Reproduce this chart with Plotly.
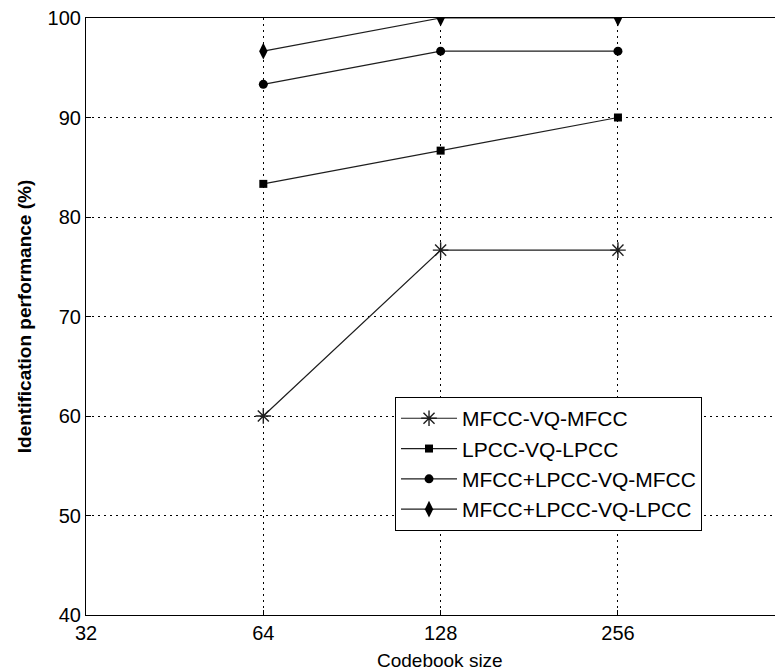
import math
import plotly.graph_objects as go

# Codebook sizes and identification rates (%) for each feature/VQ combination
codebook_sizes = [64, 128, 256]
mfcc_vq_mfcc = [60.0, 76.67, 76.67]
lpcc_vq_lpcc = [83.33, 86.67, 90.0]
mfcc_lpcc_vq_mfcc = [93.33, 96.67, 96.67]
mfcc_lpcc_vq_lpcc = [96.67, 100.0, 100.0]

series_names = [
    "MFCC-VQ-MFCC",
    "LPCC-VQ-LPCC",
    "MFCC+LPCC-VQ-MFCC",
    "MFCC+LPCC-VQ-LPCC",
]

x_ticks = [32, 64, 128, 256]
y_ticks = [40, 50, 60, 70, 80, 90, 100]

FONT = "Liberation Sans, Arial, sans-serif"

styles = [
    dict(symbol="asterisk-open", size=13, line=dict(width=1.4, color="black")),
    dict(symbol="square", size=8, color="black"),
    dict(symbol="circle", size=9, color="black"),
    dict(symbol="diamond-tall", size=12, color="black"),
]

fig = go.Figure()
for name, vals, mk in zip(
    series_names,
    [mfcc_vq_mfcc, lpcc_vq_lpcc, mfcc_lpcc_vq_mfcc, mfcc_lpcc_vq_lpcc],
    styles,
):
    fig.add_trace(
        go.Scatter(
            x=codebook_sizes,
            y=vals,
            name=name,
            mode="lines+markers",
            line=dict(color="#1e1e1e", width=1.2),
            marker=mk,
        )
    )

fig.update_layout(
    width=775,
    height=672,
    margin=dict(l=86, r=0, t=18, b=57),
    paper_bgcolor="white",
    plot_bgcolor="white",
    font=dict(family=FONT, size=18, color="black"),
    showlegend=True,
    legend=dict(
        x=0.4485,
        y=0.365,
        xanchor="left",
        yanchor="top",
        bgcolor="white",
        bordercolor="black",
        borderwidth=1,
        font=dict(family=FONT, size=21, color="black"),
        itemwidth=56,
        tracegroupgap=0,
    ),
    xaxis=dict(
        type="log",
        range=[math.log10(32), math.log10(473)],
        tickvals=x_ticks,
        ticktext=[str(v) for v in x_ticks],
        ticks="inside",
        ticklen=5,
        tickcolor="black",
        showline=True,
        linecolor="black",
        linewidth=1.2,
        mirror=True,
        showgrid=True,
        gridcolor="black",
        gridwidth=1,
        griddash="2px,4px",
        zeroline=False,
        tickfont=dict(family=FONT, size=20),
    ),
    yaxis=dict(
        range=[40, 100],
        tickvals=y_ticks,
        ticks="inside",
        ticklen=5,
        tickcolor="black",
        showline=True,
        linecolor="black",
        linewidth=1.2,
        mirror=False,
        showgrid=True,
        gridcolor="black",
        gridwidth=1,
        griddash="2px,4px",
        zeroline=False,
        tickfont=dict(family=FONT, size=20),
        title=dict(
            text="<b>Identification performance (%)</b>",
            font=dict(family=FONT, size=19),
            standoff=10,
        ),
    ),
    annotations=[
        dict(
            text="Codebook size",
            xref="paper",
            yref="paper",
            x=(440 - 86) / 689,
            y=-45 / 597,
            xanchor="center",
            yanchor="middle",
            showarrow=False,
            font=dict(family=FONT, size=19),
        )
    ],
)

fig.write_html("out.html")
